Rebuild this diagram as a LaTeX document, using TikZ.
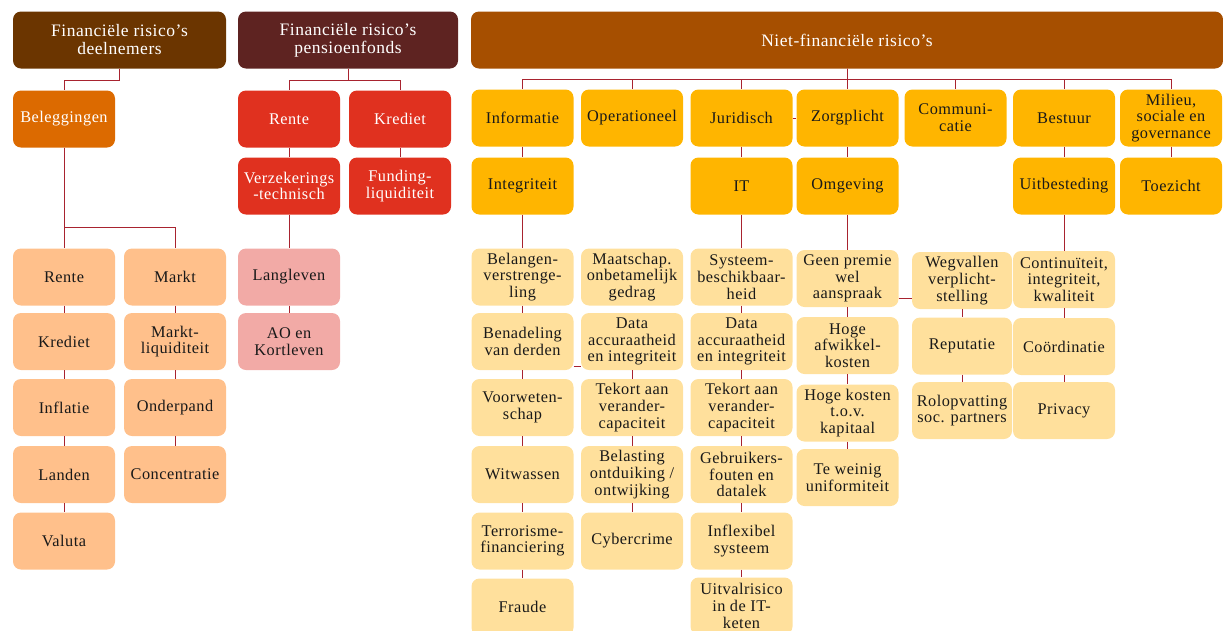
\documentclass[tikz,border=0pt]{standalone}
\usepackage{fontspec}
\setmainfont{Liberation Serif}[LetterSpace=3]

\definecolor{hdrA}{HTML}{6B3500}
\definecolor{hdrB}{HTML}{5E2321}
\definecolor{hdrC}{HTML}{A64F00}
\definecolor{darkorange}{HTML}{DC6A00}
\definecolor{brightred}{HTML}{E0311F}
\definecolor{peach}{HTML}{FFC08B}
\definecolor{rose}{HTML}{F2AAA6}
\definecolor{amber}{HTML}{FFB500}
\definecolor{sand}{HTML}{FFE09C}
\definecolor{wirered}{HTML}{A8232F}

\tikzstyle{box}=[rectangle, rounded corners=8pt, minimum width=102pt, minimum height=57pt, inner sep=1pt, align=center, font=\fontsize{16.3}{16.7}\selectfont, text=black!90]
\tikzstyle{head}=[box, text=white, font=\fontsize{17.5}{18}\selectfont]
\tikzstyle{conn}=[draw=wirered, line width=0.8pt]

\begin{document}
\begin{tikzpicture}[x=1pt,y=-1pt]
	\useasboundingbox (0,0) rectangle (1223,630);
        % kopjes
        \node[head, fill=hdrA, minimum width=213pt] (H1) at (119.5,40) {Financiële risico’s\\deelnemers};
        \node[head, fill=hdrB, minimum width=220pt] (H2) at (348,40) {Financiële risico’s\\pensioenfonds};
        \node[head, fill=hdrC, minimum width=752pt] (H3) at (847,40) {Niet-financiële risico’s};

        % deelnemers
        \node[box, fill=darkorange, text=white] (B0) at (64,119) {Beleggingen};
	\node[box, fill=peach] (B1) at (64,277) {Rente};
	\node[box, fill=peach] (B2) at (64,341.5) {Krediet};
	\node[box, fill=peach] (B3) at (64,407.5) {Inflatie};
	\node[box, fill=peach] (B4) at (64,474.5) {Landen};
	\node[box, fill=peach] (B5) at (64,541) {Valuta};
	\node[box, fill=peach] (M1) at (175,277) {Markt};
	\node[box, fill=peach] (M2) at (175,341.5) {Markt-\\liquiditeit};
	\node[box, fill=peach] (M3) at (175,407.5) {Onderpand};
	\node[box, fill=peach] (M4) at (175,474.5) {Concentratie};

        % pensioenfonds
        \node[box, fill=brightred, text=white] (P1) at (289,119) {Rente};
        \node[box, fill=brightred, text=white] (P2) at (400,119) {Krediet};
        \node[box, fill=brightred, text=white] (P3) at (289,186) {Verzekerings\\-technisch};
        \node[box, fill=brightred, text=white] (P4) at (400,186) {Funding-\\liquiditeit};
	\node[box, fill=rose] (P5) at (289,277) {Langleven};
	\node[box, fill=rose] (P6) at (289,341.5) {AO en\\Kortleven};

        % niet-financieel
        \node[box, fill=amber] (N1) at (522.5,118) {Informatie};
        \node[box, fill=amber] (N2) at (632,118) {Operationeel};
        \node[box, fill=amber] (N3) at (741.5,118) {Juridisch};
        \node[box, fill=amber] (N4) at (847.5,118) {Zorgplicht};
        \node[box, fill=amber] (N5) at (955.5,118) {Communi-\\catie};
        \node[box, fill=amber] (N6) at (1064,118) {Bestuur};
        \node[box, fill=amber] (N7) at (1171,118) {Milieu,\\sociale en\\governance};
        \node[box, fill=amber] (S1) at (522.5,186) {Integriteit};
        \node[box, fill=amber] (S3) at (741.5,186) {IT};
        \node[box, fill=amber] (S4) at (847.5,186) {Omgeving};
        \node[box, fill=amber] (S6) at (1064,186) {Uitbesteding};
        \node[box, fill=amber] (S7) at (1171,186) {Toezicht};

	\node[box, fill=sand] (I1) at (522.5,277) {Belangen-\\verstrenge-\\ling};
	\node[box, fill=sand] (I2) at (522.5,341.5) {Benadeling\\van derden};
	\node[box, fill=sand] (I3) at (522.5,407.5) {Voorweten-\\schap};
	\node[box, fill=sand] (I4) at (522.5,474.5) {Witwassen};
	\node[box, fill=sand] (I5) at (522.5,541) {Terrorisme-\\financiering};
	\node[box, fill=sand] (I6) at (522.5,607) {Fraude};
	\node[box, fill=sand] (J1) at (632,277) {Maatschap.\\onbetamelijk\\gedrag};
	\node[box, fill=sand] (J2) at (632,341.5) {Data\\accuraatheid\\en integriteit};
	\node[box, fill=sand] (J3) at (632,407.5) {Tekort aan\\verander-\\capaciteit};
	\node[box, fill=sand] (J4) at (632,474.5) {Belasting\\ontduiking /\\ontwijking};
	\node[box, fill=sand] (J5) at (632,541) {Cybercrime};
	\node[box, fill=sand] (T1) at (741.5,277) {Systeem-\\beschikbaar-\\heid};
	\node[box, fill=sand] (T2) at (741.5,341.5) {Data\\accuraatheid\\en integriteit};
	\node[box, fill=sand] (T3) at (741.5,407.5) {Tekort aan\\verander-\\capaciteit};
	\node[box, fill=sand] (T4) at (741.5,474.5) {Gebruikers-\\fouten en\\datalek};
	\node[box, fill=sand] (T5) at (741.5,541) {Inflexibel\\systeem};
	\node[box, fill=sand] (T6) at (741.5,606) {Uitvalrisico\\in de IT-\\keten};
	\node[box, fill=sand] (O1) at (847.5,278.5) {Geen premie\\wel\\aanspraak};
	\node[box, fill=sand] (O2) at (847.5,345.5) {Hoge\\afwikkel-\\kosten};
	\node[box, fill=sand] (O3) at (847.5,413) {Hoge kosten\\t.o.v.\\kapitaal};
	\node[box, fill=sand] (O4) at (847.5,477.5) {Te weinig\\uniformiteit};
	\node[box, fill=sand, minimum width=100pt] (W1) at (962,280.5) {Wegvallen\\verplicht-\\stelling};
	\node[box, fill=sand, minimum width=100pt] (W2) at (962,346) {Reputatie};
	\node[box, fill=sand, minimum width=100pt] (W3) at (962,410.5) {Rolopvatting\\soc. partners};
	\node[box, fill=sand] (U1) at (1064,279.5) {Continuïteit,\\integriteit,\\kwaliteit};
	\node[box, fill=sand] (U2) at (1064,346.5) {Coördinatie};
	\node[box, fill=sand] (U3) at (1064,410.5) {Privacy};

        % lijnen
        \draw[conn] (H1.south) -- ++(0,12) -| (B0.north);
        \draw[conn] (B0.south) -- (B1.north);
        \draw[conn] (B0.south) -- ++(0,80) -| (M1.north);
        \draw[conn] (B1) -- (B2);
        \draw[conn] (B2) -- (B3);
        \draw[conn] (B3) -- (B4);
        \draw[conn] (B4) -- (B5);
        \draw[conn] (M1) -- (M2);
        \draw[conn] (M2) -- (M3);
        \draw[conn] (M3) -- (M4);

        \draw[conn] (H2.south) -- ++(0,12) -| (P1.north);
        \draw[conn] (H2.south) -- ++(0,12) -| (P2.north);
        \draw[conn] (P1) -- (P3);
        \draw[conn] (P2) -- (P4);
        \draw[conn] (P3) -- (P5);
        \draw[conn] (P5) -- (P6);

	\foreach \n in {N1,N2,N3,N4,N5,N6,N7}
	  \draw[conn] (H3.south) -- ++(0,11) -| (\n.north);
        \draw[conn] (N3) -- (N4);
        \draw[conn] (N1) -- (S1);
        \draw[conn] (N3) -- (S3);
        \draw[conn] (N4) -- (S4);
        \draw[conn] (N6) -- (S6);
        \draw[conn] (N7) -- (S7);

        \draw[conn] (S1) -- (I1);
        \draw[conn] (I1) -- (I2);
        \draw[conn] (I2) -- (I3);
        \draw[conn] (I3) -- (I4);
        \draw[conn] (I4) -- (I5);
        \draw[conn] (I5) -- (I6);
        \draw[conn] ([yshift=-25pt]I2.east) -- ([yshift=-25pt]J2.west);
        \draw[conn] (J2) -- (J3);
        \draw[conn] (J3) -- (J4);
        \draw[conn] (J4) -- (J5);

        \draw[conn] (S3) -- (T1);
        \draw[conn] (T1) -- (T2);
        \draw[conn] (T2) -- (T3);
        \draw[conn] (T3) -- (T4);
        \draw[conn] (T4) -- (T5);
        \draw[conn] (T5) -- (T6);

        \draw[conn] (S4) -- (O1);
        \draw[conn] (O1) -- (O2);
        \draw[conn] (O2) -- (O3);
        \draw[conn] (O3) -- (O4);
        \draw[conn] ([yshift=-20pt]O1.east) -- ([yshift=-20pt]O1.east -| W1.west);
        \draw[conn] (W1) -- (W2);
        \draw[conn] (W2) -- (W3);

        \draw[conn] (S6) -- (U1);
        \draw[conn] (U1) -- (U2);
        \draw[conn] (U2) -- (U3);
\end{tikzpicture}
\end{document}
